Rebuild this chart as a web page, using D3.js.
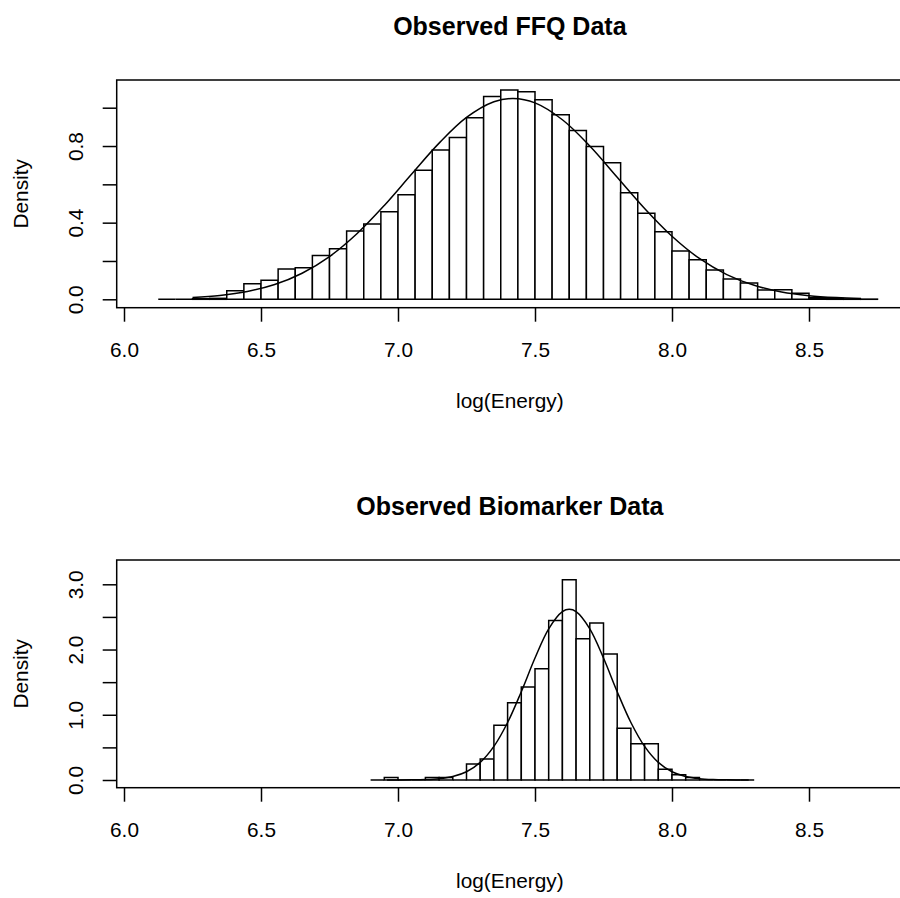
<!DOCTYPE html>
<html>
<head>
<meta charset="utf-8">
<script src="https://cdn.jsdelivr.net/npm/d3@7"></script>
<style>
  html, body { margin: 0; padding: 0; background: #fff; }
  svg { display: block; font-family: "Liberation Sans", Arial, Helvetica, sans-serif; }
</style>
</head>
<body>
<svg id="chart" width="900" height="898"></svg>
<script>
// ---------- data ----------
const titles = ["Observed FFQ Data", "Observed Biomarker Data"];
const xLabel = "log(Energy)";
const yLabel = "Density";
const xTicks = [6.0, 6.5, 7.0, 7.5, 8.0, 8.5];

// FFQ histogram: breaks start 6.125, width 0.0625
const ffqBreakStart = 6.125;
const ffqBinWidth = 0.0625;
const ffqDensity = [0, 0, 0.003, 0.005, 0.045, 0.081, 0.099, 0.158, 0.165, 0.228,
  0.264, 0.356, 0.393, 0.457, 0.546, 0.673, 0.779, 0.845, 0.947, 1.059,
  1.092, 1.083, 1.041, 0.963, 0.881, 0.798, 0.713, 0.556, 0.449, 0.352,
  0.252, 0.207, 0.153, 0.106, 0.085, 0.048, 0.050, 0.031, 0.008, 0.004,
  0.002, 0.001];
const ffqCurveX = [6.25, 6.35, 6.45, 6.55, 6.65, 6.75, 6.85, 6.95, 7.05, 7.15, 7.25, 7.35, 7.42,
  7.50, 7.60, 7.70, 7.80, 7.90, 8.00, 8.10, 8.20, 8.30, 8.40, 8.50, 8.60, 8.69];
const ffqCurveY = [0.009, 0.020, 0.041, 0.077, 0.136, 0.223, 0.342, 0.490, 0.654, 0.815, 0.949, 1.031, 1.048,
  1.025, 0.937, 0.800, 0.637, 0.474, 0.329, 0.213, 0.129, 0.073, 0.038, 0.019, 0.009, 0.004];
const ffqYTicks = [0, 0.2, 0.4, 0.6, 0.8, 1.0];
const ffqYLabels = [0, 0.4, 0.8];

// Biomarker histogram: breaks start 6.9, width 0.05
const bioBreakStart = 6.9;
const bioBinWidth = 0.05;
const bioDensity = [0, 0.04, 0, 0, 0.04, 0.04, 0, 0.245, 0.322, 0.838,
  1.186, 1.426, 1.707, 2.445, 3.071, 2.167, 2.407, 1.932, 0.792, 0.557,
  0.557, 0.164, 0.08, 0.04, 0, 0, 0, 0];
const bioCurveX = [6.96, 7.05, 7.10, 7.15, 7.20, 7.25, 7.30, 7.35, 7.40, 7.45, 7.50, 7.55, 7.60, 7.625,
  7.65, 7.70, 7.75, 7.80, 7.85, 7.90, 7.95, 8.00, 8.05, 8.10, 8.15, 8.20, 8.28];
const bioCurveY = [0.000, 0.002, 0.007, 0.021, 0.054, 0.127, 0.270, 0.515, 0.881, 1.354, 1.870, 2.318, 2.581, 2.616,
  2.581, 2.318, 1.870, 1.354, 0.881, 0.515, 0.270, 0.127, 0.054, 0.021, 0.007, 0.002, 0.000];
const bioYTicks = [0, 0.5, 1.0, 1.5, 2.0, 2.5, 3.0];
const bioYLabels = [0, 1, 2, 3];

// ---------- layout ----------
const svg = d3.select("#chart");
const LW = 1.5;
const FS = 20.8;
const plotLeft = 116.7, plotRight = 903;
const panels = [
  { top: 80, bottom: 307.7, title: titles[0], start: ffqBreakStart, width: ffqBinWidth, dens: ffqDensity,
    cx: ffqCurveX, cy: ffqCurveY, yTicks: ffqYTicks, yLabels: ffqYLabels, yDomain: [0, 1.0], yRange: [299.3, 107.7] },
  { top: 560, bottom: 787.7, title: titles[1], start: bioBreakStart, width: bioBinWidth, dens: bioDensity,
    cx: bioCurveX, cy: bioCurveY, yTicks: bioYTicks, yLabels: bioYLabels, yDomain: [0, 3.0], yRange: [780, 584.3] }
];

const x = d3.scaleLinear().domain([6.0, 8.5]).range([124, 809]);

panels.forEach(p => {
  const y = d3.scaleLinear().domain(p.yDomain).range(p.yRange);
  const g = svg.append("g");
  const cxm = (plotLeft + plotRight) / 2;

  // bars (as closed paths so zero-height bins still draw on the baseline)
  const bins = p.dens.map((d, i) => ({ x0: p.start + i * p.width, x1: p.start + (i + 1) * p.width, d }));
  g.append("g").selectAll("path").data(bins).join("path")
    .attr("d", b => `M${x(b.x0)},${y(0)}V${y(b.d)}H${x(b.x1)}V${y(0)}Z`)
    .attr("fill", "#fff")
    .attr("stroke", "#000")
    .attr("stroke-width", LW);

  // curve
  const pts = p.cx.map((v, i) => [v, p.cy[i]]);
  g.append("path")
    .datum(pts)
    .attr("d", d3.line().x(d => x(d[0])).y(d => y(d[1])).curve(d3.curveCatmullRom.alpha(0.5)))
    .attr("fill", "none")
    .attr("stroke", "#000")
    .attr("stroke-width", LW);

  // box
  g.append("rect")
    .attr("x", plotLeft).attr("y", p.top)
    .attr("width", plotRight - plotLeft).attr("height", p.bottom - p.top)
    .attr("fill", "none").attr("stroke", "#000").attr("stroke-width", LW);

  // x axis
  const xa = g.append("g").attr("transform", `translate(0,${p.bottom})`)
    .call(d3.axisBottom(x).tickValues(xTicks).tickSize(14).tickPadding(20.5).tickFormat(d3.format(".1f")));
  xa.select(".domain").remove();
  xa.selectAll(".tick line").attr("stroke-width", LW);
  xa.selectAll(".tick text").attr("font-size", FS).attr("font-family", "Liberation Sans, Arial, sans-serif").attr("fill", "#000");

  // y axis
  const ya = g.append("g").attr("transform", `translate(${plotLeft},0)`)
    .call(d3.axisLeft(y).tickValues(p.yTicks).tickSize(14)
      .tickFormat(v => p.yLabels.some(l => Math.abs(l - v) < 1e-9) ? d3.format(".1f")(v) : ""));
  ya.select(".domain").remove();
  ya.selectAll(".tick line").attr("stroke-width", LW);
  ya.selectAll(".tick text")
    .attr("x", 0).attr("y", -33.4).attr("dy", null)
    .attr("transform", "rotate(-90)")
    .attr("text-anchor", "middle")
    .attr("font-size", FS).attr("font-family", "Liberation Sans, Arial, sans-serif").attr("fill", "#000");

  // title
  g.append("text").attr("x", cxm).attr("y", p.top - 45)
    .attr("text-anchor", "middle").attr("font-weight", "bold").attr("font-size", 25)
    .text(p.title);

  // x label
  g.append("text").attr("x", cxm).attr("y", p.bottom + 100)
    .attr("text-anchor", "middle").attr("font-size", FS)
    .text(xLabel);

  // y label
  const ym = (p.top + p.bottom) / 2;
  g.append("text").attr("transform", `translate(28.3,${ym}) rotate(-90)`)
    .attr("text-anchor", "middle").attr("font-size", FS)
    .text(yLabel);
});
</script>
</body>
</html>
